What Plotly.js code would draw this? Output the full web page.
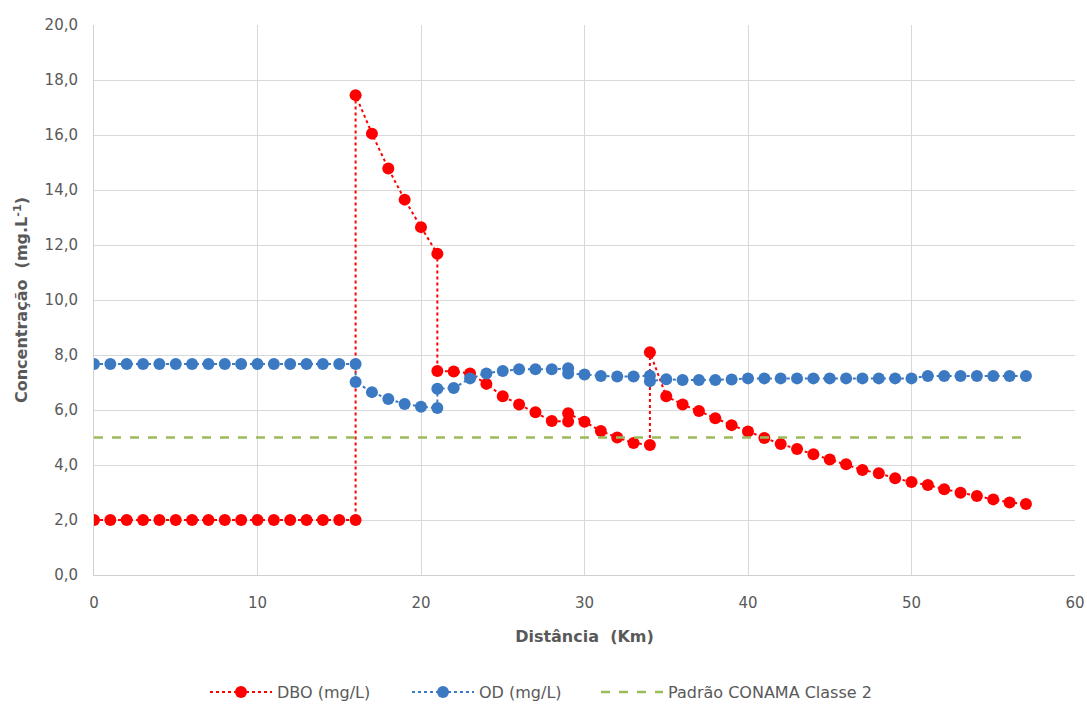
<!DOCTYPE html>
<html>
<head>
<meta charset="utf-8">
<script src="https://cdn.plot.ly/plotly-3.0.1.min.js"></script>
<style>html,body{margin:0;padding:0;background:#fff;}#chart{width:1087px;height:707px;}</style>
</head>
<body>
<div id="chart"></div>
<script>
// Distance along the river (km); repeated values mark discharge points
const dboDist = [0,1,2,3,4,5,6,7,8,9,10,11,12,13,14,15,16,
  16,17,18,19,20,21,
  21,22,23,24,25,26,27,28,29,
  29,30,31,32,33,34,
  34,35,36,37,38,39,40,41,42,43,44,45,46,47,48,49,50,51,52,53,54,55,56,57];
const dboVals = [2.0,2.0,2.0,2.0,2.0,2.0,2.0,2.0,2.0,2.0,2.0,2.0,2.0,2.0,2.0,2.0,2.0,
  17.45,16.05,14.78,13.65,12.65,11.68,
  7.42,7.4,7.33,6.95,6.5,6.2,5.92,5.6,5.58,
  5.88,5.57,5.24,5.0,4.8,4.73,
  8.1,6.5,6.2,5.96,5.7,5.45,5.22,4.98,4.76,4.58,4.39,4.2,4.03,3.82,3.7,3.52,3.38,3.27,3.12,2.99,2.87,2.75,2.64,2.58];

const odDist = [0,1,2,3,4,5,6,7,8,9,10,11,12,13,14,15,16,
  16,17,18,19,20,21,
  21,22,23,24,25,26,27,28,29,
  29,30,31,32,33,34,
  34,35,36,37,38,39,40,41,42,43,44,45,46,47,48,49,50,51,52,53,54,55,56,57];
const odVals = [7.67,7.67,7.67,7.67,7.67,7.67,7.67,7.67,7.67,7.67,7.67,7.67,7.67,7.67,7.67,7.67,7.67,
  7.02,6.65,6.4,6.22,6.12,6.07,
  6.77,6.8,7.15,7.33,7.42,7.48,7.48,7.48,7.52,
  7.33,7.29,7.24,7.22,7.22,7.25,
  7.05,7.12,7.09,7.09,7.09,7.11,7.15,7.15,7.15,7.15,7.15,7.15,7.15,7.15,7.15,7.15,7.15,7.24,7.24,7.24,7.24,7.24,7.24,7.24];

// CONAMA class 2 reference line
const limitDist = [0, 57];
const limitVals = [5.0, 5.0];

const yTicks = [0,2,4,6,8,10,12,14,16,18,20];
const xTicks = [0,10,20,30,40,50,60];

const font = '"DejaVu Sans", Verdana, sans-serif';
const grey = '#595959';

const traces = [
  {
    x: dboDist, y: dboVals, name: 'DBO (mg/L)', type: 'scatter', mode: 'lines+markers',
    line: {color: '#ff0000', width: 2, dash: 'dot'},
    marker: {color: '#ff0000', size: 12},
    legend: 'legend'
  },
  {
    x: odDist, y: odVals, name: 'OD (mg/L)', type: 'scatter', mode: 'lines+markers',
    line: {color: '#3b79c2', width: 2, dash: 'dot'},
    marker: {color: '#3b79c2', size: 12},
    legend: 'legend2'
  },
  {
    x: limitDist, y: limitVals, name: 'Padrão CONAMA Classe 2', type: 'scatter', mode: 'lines',
    line: {color: '#9bbb59', width: 2.5, dash: 'dash'},
    legend: 'legend3'
  }
];

// one legend box per series, laid out in a row under the x-axis title
function legendAt(px) {
  return {
    orientation: 'h', x: px / 1087, xanchor: 'left', xref: 'container',
    y: 0.021, yanchor: 'middle', yref: 'container',
    font: {family: font, size: 16, color: grey},
    itemwidth: 62, bgcolor: 'rgba(0,0,0,0)'
  };
}

const layout = {
  width: 1087, height: 707,
  margin: {l: 94, r: 12, t: 25, b: 132},
  paper_bgcolor: '#ffffff', plot_bgcolor: '#ffffff',
  separators: ',.',
  font: {family: font, size: 15, color: grey},
  showlegend: true,
  legend: legendAt(205),
  legend2: legendAt(407),
  legend3: legendAt(596),
  xaxis: {
    range: [0, 60], tickvals: xTicks, ticktext: xTicks.map(String),
    showgrid: true, gridcolor: '#d9d9d9', gridwidth: 1,
    showline: true, linecolor: '#d0d0d0', linewidth: 1,
    zeroline: false, ticks: '', ticklen: 0, ticklabelstandoff: 14,
    automargin: false,
    tickfont: {family: font, size: 15, color: grey},
    title: {text: '<b>Distância  (Km)</b>', font: {family: font, size: 16, color: grey}, standoff: 19}
  },
  yaxis: {
    range: [0, 20], tickvals: yTicks, tickformat: '.1f',
    showgrid: true, gridcolor: '#d9d9d9', gridwidth: 1,
    showline: true, linecolor: '#d0d0d0', linewidth: 1,
    zeroline: false, ticks: '', ticklen: 0, ticklabelstandoff: 12,
    automargin: false,
    tickfont: {family: font, size: 15, color: grey},
    title: {text: '<b>Concentração  (mg.L<sup>-1</sup>)</b>', font: {family: font, size: 16, color: grey}, standoff: 12}
  }
};

Plotly.newPlot('chart', traces, layout, {displayModeBar: false, staticPlot: true});
</script>
</body>
</html>
